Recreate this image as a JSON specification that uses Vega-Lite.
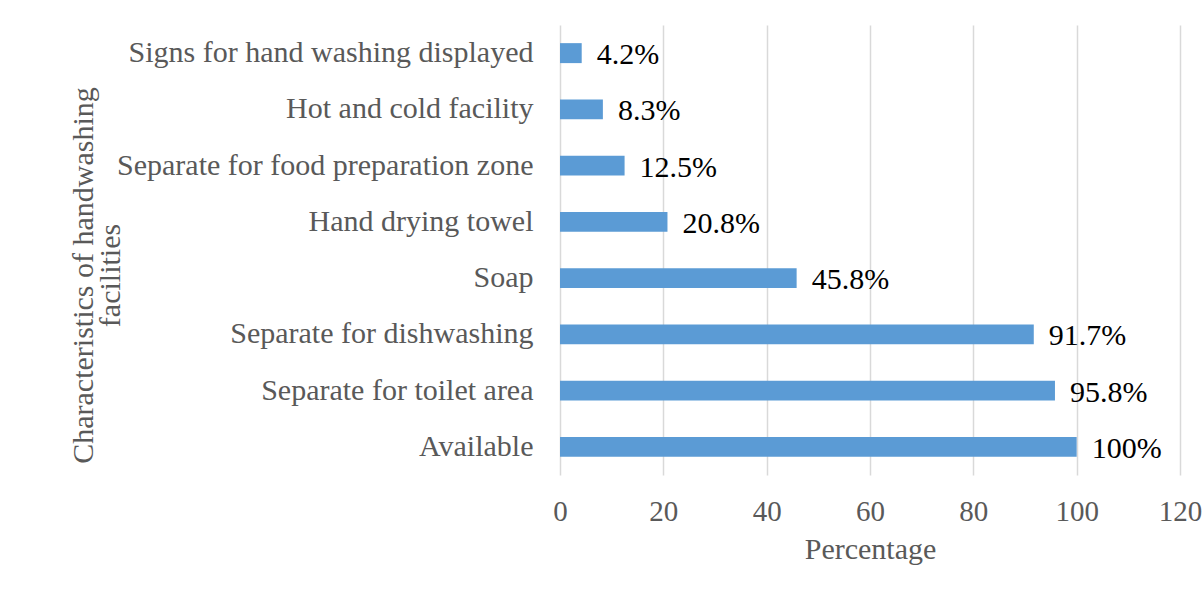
{
  "$schema": "https://vega.github.io/schema/vega-lite/v6.json",
  "autosize": "none",
  "width": 620,
  "height": 450,
  "padding": {"left": 560, "top": 25, "right": 24, "bottom": 115},
  "background": "#ffffff",
  "config": {
    "font": "Liberation Serif",
    "view": {"stroke": null}
  },
  "data": {
    "values": [
      {"item": "Signs for hand washing displayed", "pct": 4.2, "label": "4.2%"},
      {"item": "Hot and cold facility", "pct": 8.3, "label": "8.3%"},
      {"item": "Separate for food preparation zone", "pct": 12.5, "label": "12.5%"},
      {"item": "Hand drying towel", "pct": 20.8, "label": "20.8%"},
      {"item": "Soap", "pct": 45.8, "label": "45.8%"},
      {"item": "Separate for dishwashing", "pct": 91.7, "label": "91.7%"},
      {"item": "Separate for toilet area", "pct": 95.8, "label": "95.8%"},
      {"item": "Available", "pct": 100, "label": "100%"}
    ]
  },
  "encoding": {
    "y": {
      "field": "item",
      "type": "nominal",
      "sort": null,
      "scale": {"paddingInner": 0.645, "paddingOuter": 0.3225},
      "axis": {
        "title": ["Characteristics of handwashing", "facilities"],
        "titleFont": "Liberation Serif",
        "titleFontSize": 30,
        "titleFontWeight": "normal",
        "titleColor": "#595959",
        "titleLineHeight": 27,
        "titleX": -462,
        "titleY": 250,
        "labelFont": "Liberation Serif",
        "labelFontSize": 30,
        "labelColor": "#595959",
        "labelPadding": 27,
        "labelLimit": 600,
        "ticks": false,
        "domain": false,
        "grid": false
      }
    },
    "x": {
      "field": "pct",
      "type": "quantitative",
      "scale": {"domain": [0, 120], "nice": false},
      "axis": {
        "title": "Percentage",
        "values": [0, 20, 40, 60, 80, 100, 120],
        "titleFont": "Liberation Serif",
        "titleFontSize": 30,
        "titleFontWeight": "normal",
        "titleColor": "#595959",
        "titlePadding": 8,
        "labelFont": "Liberation Serif",
        "labelFontSize": 29,
        "labelColor": "#595959",
        "labelPadding": 22,
        "labelFlush": false,
        "labelOverlap": false,
        "ticks": false,
        "domain": false,
        "grid": true,
        "gridColor": "#d9d9d9",
        "gridWidth": 1.5
      }
    }
  },
  "layer": [
    {"mark": {"type": "bar", "color": "#5b9bd5"}},
    {
      "mark": {"type": "text", "align": "left", "baseline": "middle", "dx": 15, "dy": 2, "font": "Liberation Serif", "fontSize": 30, "color": "#000000"},
      "encoding": {"text": {"field": "label"}}
    }
  ]
}
